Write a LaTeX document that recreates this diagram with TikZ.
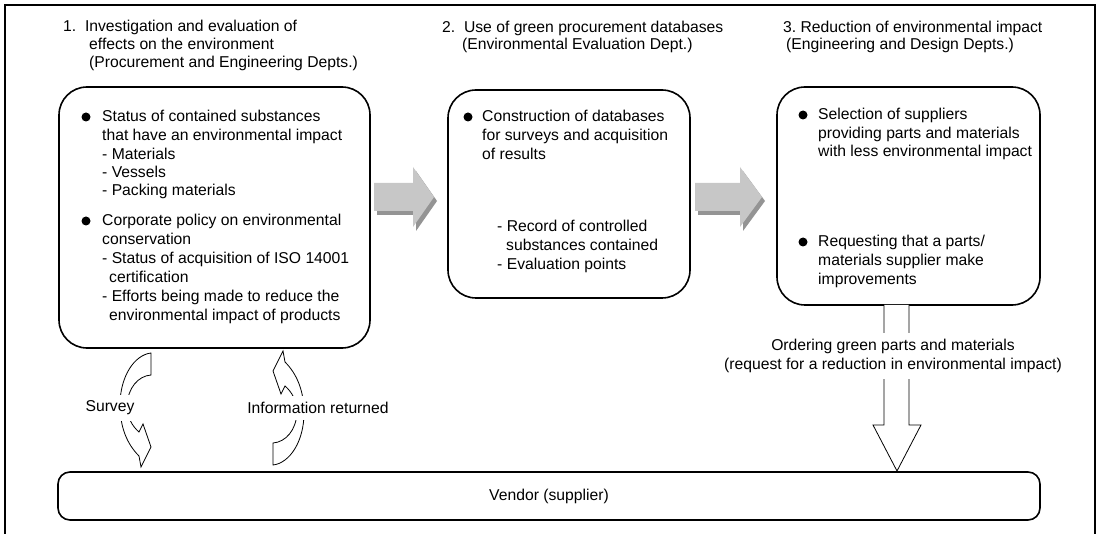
\documentclass[tikz,border=0pt]{standalone}
\usepackage{fontspec}
\setmainfont{Liberation Sans}
\newcommand{\txtsize}{\fontsize{15.7}{18.7}\selectfont}

\begin{document}
\begin{tikzpicture}[x=1pt,y=-1pt,font=\txtsize]
   \useasboundingbox (0,0) rectangle (1100,534);
   \tikzstyle{panel}=[draw, line width=1.6pt, rounded corners=28pt, inner sep=0pt]
   \tikzstyle{txt}=[anchor=base west, inner sep=0pt]
   \tikzstyle{dot}=[circle, fill, inner sep=0pt, minimum size=9pt]
   \tikzstyle{tag}=[fill=white, inner xsep=3pt, inner ysep=6pt]
   \tikzstyle{outline}=[draw, line width=0.8pt, fill=white]
   \tikzset{curl/.pic={
      \path[outline] (0,0) -- (0,22) .. controls (-13,23) and (-23,35) .. (-24,52)
         .. controls (-24,64) and (-19,73) .. (-12,79) -- (-8,71) -- (0,94) -- (-10,114) -- (-12,103)
         .. controls (-24,91) and (-31,74) .. (-31,52) .. controls (-31,24) and (-17,2) .. (0,0) -- cycle;
   }}
   \draw[line width=1.6pt] (5,534) -- (5,5) -- (1095,5) -- (1095,534);
   \node[panel, minimum width=311pt, minimum height=261pt] (invest) at (214.5,217.5) {};
   \node[panel, minimum width=242pt, minimum height=208pt] (database) at (569,194) {};
   \node[panel, minimum width=263pt, minimum height=218pt] (reduce) at (908.5,196) {};
   \node[panel, rounded corners=12pt, minimum width=982pt, minimum height=48pt] (vendor) at (549,496) {Vendor (supplier)};
   \foreach \y/\x/\t [count=\i] in {27/63/{1.\ \ Investigation and evaluation of},45/89/{effects on the environment},63/89/{(Procurement and Engineering Depts.)},
       28/442/{2.\ \ Use of green procurement databases},45/462/{(Environmental Evaluation Dept.)},
       28/783/{3.\ Reduction of environmental impact},45/786/{(Engineering and Design Depts.)}} {
       \node[txt] (head\i) at (\x,\y+5) {\t};
   }
   \foreach \y/\x/\t [count=\i] in {117/102/{Status of contained substances},136/102/{that have an environmental impact},
       155/102/{- Materials},173/102/{- Vessels},191/102/{- Packing materials},
       221/102/{Corporate policy on environmental},240/102/{conservation},259/102/{- Status of acquisition of ISO 14001},
       278/109/{certification},297/102/{- Efforts being made to reduce the},316/109/{environmental impact of products}} {
       \node[txt] (inv\i) at (\x,\y+5) {\t};
   }
   \foreach \y/\x/\t [count=\i] in {117/482/{Construction of databases},136/482/{for surveys and acquisition},155/482/{of results},
       227/497/{- Record of controlled},246/506/{substances contained},265/497/{- Evaluation points}} {
       \node[txt] (db\i) at (\x,\y+5) {\t};
   }
   \foreach \y/\x/\t [count=\i] in {115/818/{Selection of suppliers},134/818/{providing parts and materials},152/818/{with less environmental impact},
       242/818/{Requesting that a parts/},261/818/{materials supplier make},280/818/{improvements}} {
       \node[txt] (red\i) at (\x,\y+5) {\t};
   }
   \foreach \x/\y [count=\i] in {86/117,86/221,468/117,803/115,803/242} {
       \node[dot] (dot\i) at (\x,\y) {};
   }
   \foreach \l/\b/\t in {374/413/434,695/740/762} {
       \fill[black!42, shift={(3,4)}] (\l,183) -- (\b,183) -- (\b,167) -- (\t,197) -- (\b,227) -- (\b,211) -- (\l,211) -- cycle;
       \fill[black!22] (\l,183) -- (\b,183) -- (\b,167) -- (\t,197) -- (\b,227) -- (\b,211) -- (\l,211) -- cycle;
   }
   \pic at (151,353) {curl};
   \pic[rotate=180] at (273,465) {curl};
   \node[tag] (survey) at (110,408) {Survey};
   \node[tag] (inforet) at (318,408) {Information returned};
   \path[outline] (884,305) -- (884,425) -- (873,425) -- (897,471) -- (921,425) -- (909,425) -- (909,305);
   \node[tag, align=center] (ordering) at (893,356) {Ordering green parts and materials\\(request for a reduction in environmental impact)};
\end{tikzpicture}
\end{document}
